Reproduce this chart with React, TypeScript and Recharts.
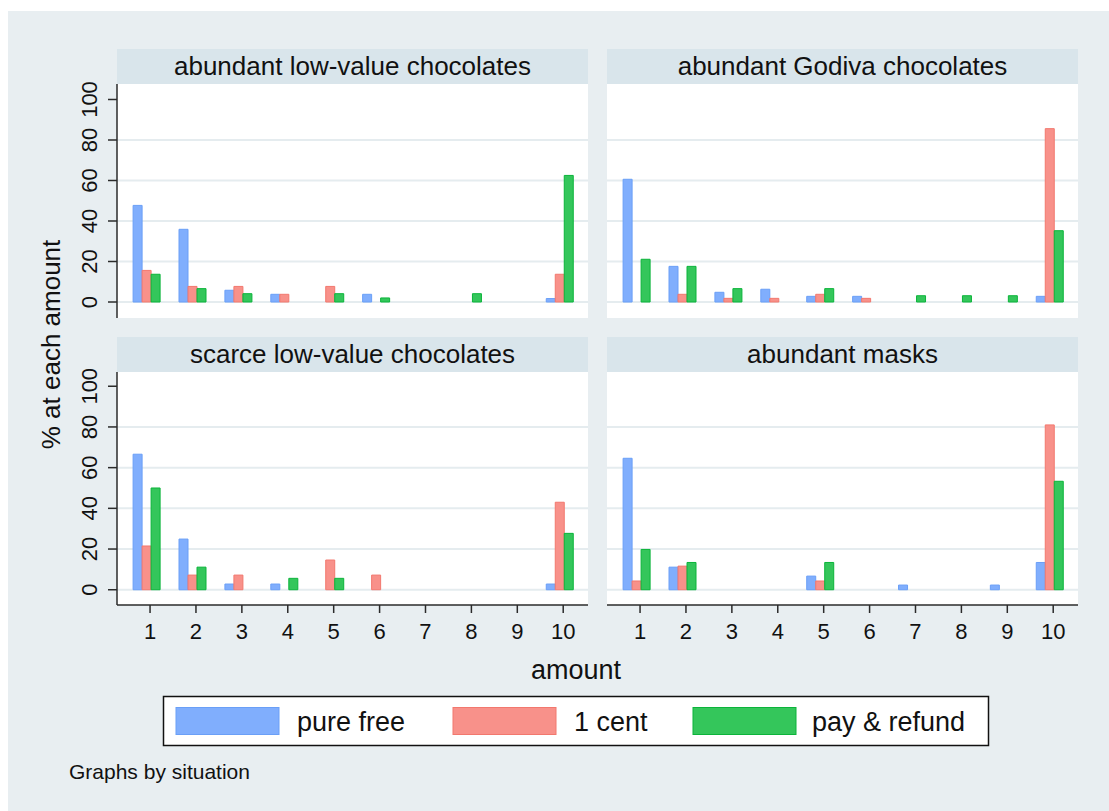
import React from 'react';
import { BarChart, Bar, XAxis, YAxis, CartesianGrid } from 'recharts';

const amounts = [1, 2, 3, 4, 5, 6, 7, 8, 9, 10];
const yTicks = [0, 20, 40, 60, 80, 100];
const gridValues = [0, 20, 40, 60, 80];
const seriesNames = ['pure free', '1 cent', 'pay & refund'];
const situations = [
  'abundant low-value chocolates',
  'abundant Godiva chocolates',
  'scarce low-value chocolates',
  'abundant masks',
];

const lowValueFree = [47.7, 35.9, 5.8, 3.8, null, 3.8, null, null, null, 1.7];
const lowValueCent = [15.6, 7.7, 7.7, 3.8, 7.7, null, null, null, null, 13.7];
const lowValuePay = [13.7, 6.6, 4.1, null, 4.1, 2.0, null, 4.1, null, 62.5];

const godivaFree = [60.6, 17.6, 4.8, 6.3, 2.8, 2.8, null, null, null, 2.8];
const godivaCent = [null, 3.8, 1.8, 1.8, 3.8, 1.8, null, null, null, 85.6];
const godivaPay = [21.1, 17.6, 6.6, null, 6.6, null, 3.1, 3.1, 3.1, 35.2];

const scarceFree = [66.6, 24.9, 2.8, 2.8, null, null, null, null, null, 2.8];
const scarceCent = [21.5, 7.2, 7.2, null, 14.6, 7.2, null, null, null, 43.0];
const scarcePay = [50.0, 11.1, null, 5.6, 5.6, null, null, null, null, 27.7];

const masksFree = [64.6, 11.1, null, null, 6.7, null, 2.3, null, 2.3, 13.4];
const masksCent = [4.3, 11.6, null, null, 4.3, null, null, null, null, 81.0];
const masksPay = [19.8, 13.4, null, null, 13.4, null, null, null, null, 53.3];

const FONT = '"Liberation Sans", Arial, Helvetica, sans-serif';
const BG = '#e8eef1';
const HEADER = '#d9e5eb';
const GRID = '#e5ecef';
const AXIS = '#2b2b2b';
const COLORS = [
  { fill: '#80aefd', stroke: '#6a9ff7' },
  { fill: '#f8918a', stroke: '#f2786e' },
  { fill: '#34c65b', stroke: '#0bb43a' },
];

const buildRows = (free: (number | null)[], cent: (number | null)[], pay: (number | null)[]) =>
  amounts.map((a, i) => ({ amount: a, free: free[i], cent: cent[i], pay: pay[i] }));

const panels = [
  { title: situations[0], rows: buildRows(lowValueFree, lowValueCent, lowValuePay), left: 117, top: 84, h: 234, showY: true, showX: false, headTop: 49 },
  { title: situations[1], rows: buildRows(godivaFree, godivaCent, godivaPay), left: 607, top: 84, h: 234, showY: false, showX: false, headTop: 49 },
  { title: situations[2], rows: buildRows(scarceFree, scarceCent, scarcePay), left: 117, top: 372, h: 233, showY: true, showX: true, headTop: 337 },
  { title: situations[3], rows: buildRows(masksFree, masksCent, masksPay), left: 607, top: 372, h: 233, showY: false, showX: true, headTop: 337 },
];

const PLOT_W = 471;
const Y_W = 60;
const X_H = 50;
const PAD_T = 24;

const RotTick = (props: any) => {
  const { x, y, payload } = props;
  const bx = x - 9;
  return (
    <text x={bx} y={y} transform={`rotate(-90 ${bx} ${y})`} textAnchor="middle" fontSize={22} fill="#111" fontFamily={FONT}>
      {payload.value}
    </text>
  );
};

const Panel = ({ p }: { p: any }) => {
  const yDomain = p.top === 84 ? [-7.9, 107.65] : [-7.5, 107.0];
  const w = PLOT_W + (p.showY ? Y_W : 0);
  const h = PAD_T + p.h + (p.showX ? X_H : 0);
  return (
    <>
      <div style={{ position: 'absolute', left: p.left, top: p.headTop, width: PLOT_W, height: p.top - p.headTop, background: HEADER, display: 'flex', alignItems: 'center', justifyContent: 'center', fontFamily: FONT, fontSize: 26, color: '#111', whiteSpace: 'nowrap' }}>
        {p.title}
      </div>
      <div style={{ position: 'absolute', left: p.left, top: p.top, width: PLOT_W, height: p.h, background: '#fff' }} />
      <div style={{ position: 'absolute', left: p.left - (p.showY ? Y_W : 0), top: p.top - PAD_T }}>
        <BarChart width={w} height={h} data={p.rows} margin={{ top: PAD_T, right: 0, bottom: 0, left: 0 }} barGap={0}>
          <CartesianGrid horizontalValues={gridValues} vertical={false} stroke={GRID} strokeWidth={2} />
          <XAxis
            type="number"
            dataKey="amount"
            domain={[0.28, 10.54]}
            ticks={amounts}
            allowDataOverflow
            hide={!p.showX}
            height={X_H}
            tickSize={8}
            tickMargin={10}
            stroke={AXIS}
            strokeWidth={1.5}
            tick={{ fontSize: 22, fill: '#111', fontFamily: FONT }}
            interval={0}
          />
          <YAxis
            type="number"
            domain={yDomain}
            ticks={yTicks}
            allowDataOverflow
            hide={!p.showY}
            width={Y_W}
            tickSize={9}
            tickMargin={2}
            stroke={AXIS}
            strokeWidth={1.5}
            tick={<RotTick />}
            interval={0}
          />
          <Bar dataKey="free" barSize={9} fill={COLORS[0].fill} stroke={COLORS[0].stroke} strokeWidth={1} isAnimationActive={false} />
          <Bar dataKey="cent" barSize={9} fill={COLORS[1].fill} stroke={COLORS[1].stroke} strokeWidth={1} isAnimationActive={false} />
          <Bar dataKey="pay" barSize={9} fill={COLORS[2].fill} stroke={COLORS[2].stroke} strokeWidth={1} isAnimationActive={false} />
          <Bar dataKey="spacer" barSize={7} fill="none" stroke="none" isAnimationActive={false} />
        </BarChart>
      </div>
    </>
  );
};

const Legend = () => {
  const items = [
    { x: 176, tx: 297 },
    { x: 453, tx: 574 },
    { x: 693, tx: 812 },
  ];
  return (
    <svg style={{ position: 'absolute', left: 0, top: 0 }} width={1109} height={811}>
      <rect x={163.5} y={696.5} width={825} height={49} fill="#fff" stroke="#111" strokeWidth={1.5} />
      {items.map((it, i) => (
        <g key={seriesNames[i]}>
          <rect x={it.x} y={707.5} width={103} height={27} fill={COLORS[i].fill} stroke={COLORS[i].stroke} strokeWidth={1} />
          <text x={it.tx} y={731} fontSize={27} fontFamily={FONT} fill="#111">{seriesNames[i]}</text>
        </g>
      ))}
      <text x={576} y={679} fontSize={27} fontFamily={FONT} fill="#111" textAnchor="middle">amount</text>
      <text x={60} y={344.5} transform="rotate(-90 60 344.5)" fontSize={26} fontFamily={FONT} fill="#111" textAnchor="middle">% at each amount</text>
      <text x={69} y={779} fontSize={21} fontFamily={FONT} fill="#111">Graphs by situation</text>
    </svg>
  );
};

export default function App() {
  return (
    <div style={{ position: 'absolute', left: 0, top: 0, width: 1109, height: 811, background: '#fff', overflow: 'hidden' }}>
      <div style={{ position: 'absolute', left: 8, top: 11, width: 1101, height: 800, background: BG }} />
      <Legend />
      {panels.map((p) => (
        <Panel key={p.title} p={p} />
      ))}
    </div>
  );
}
